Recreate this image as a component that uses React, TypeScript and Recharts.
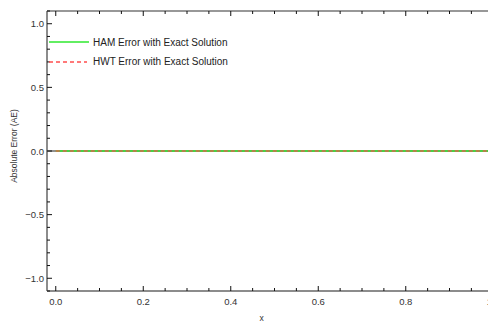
import React from 'react';
import { LineChart, Line, XAxis, YAxis, Legend, ReferenceLine } from 'recharts';

const xValues = [0, 0.1, 0.2, 0.3, 0.4, 0.5, 0.6, 0.7, 0.8, 0.9, 1.0];
const hamError = [0, 0, 0, 0, 0, 0, 0, 0, 0, 0, 0];
const hwtError = [0, 0, 0, 0, 0, 0, 0, 0, 0, 0, 0];

const xTicks = [0, 0.05, 0.1, 0.15, 0.2, 0.25, 0.3, 0.35, 0.4, 0.45, 0.5, 0.55, 0.6, 0.65, 0.7, 0.75, 0.8, 0.85, 0.9, 0.95, 1.0];
const xMajor = [0, 0.2, 0.4, 0.6, 0.8, 1.0];
const yTicks = [-1.1, -1.0, -0.9, -0.8, -0.7, -0.6, -0.5, -0.4, -0.3, -0.2, -0.1, 0, 0.1, 0.2, 0.3, 0.4, 0.5, 0.6, 0.7, 0.8, 0.9, 1.0, 1.1];
const yMajor = [-1.0, -0.5, 0, 0.5, 1.0];

const data = xValues.map((x, i) => ({ x, ham: hamError[i], hwt: hwtError[i] }));

const FONT = '"Liberation Sans", Arial, sans-serif';
const isMajor = (v: number, majors: number[]) => majors.some((m) => Math.abs(m - v) < 1e-6);
const fmt = (v: number) => (v < 0 ? '\u2212' + Math.abs(v).toFixed(1) : v.toFixed(1));

const BottomTick = (props: any) => {
  const { x, y, payload } = props;
  const major = isMajor(payload.value, xMajor);
  return (
    <g>
      <line x1={x} x2={x} y1={y} y2={y - (major ? 5 : 3)} stroke="#111" strokeWidth={1} />
      {major && (
        <text x={x} y={y + 14} textAnchor="middle" fontSize={9.5} fontFamily={FONT} fill="#333">
          {payload.value.toFixed(1)}
        </text>
      )}
    </g>
  );
};

const TopTick = (props: any) => {
  const { x, y, payload } = props;
  const major = isMajor(payload.value, xMajor);
  return <line x1={x} x2={x} y1={y} y2={y + (major ? 5 : 3)} stroke="#111" strokeWidth={1} />;
};

const LeftTick = (props: any) => {
  const { x, y, payload } = props;
  const major = isMajor(payload.value, yMajor);
  return (
    <g>
      <line x1={x} x2={x + (major ? 5 : 3)} y1={y} y2={y} stroke="#111" strokeWidth={1} />
      {major && (
        <text x={x - 3} y={y + 3.5} textAnchor="end" fontSize={9.5} fontFamily={FONT} fill="#333">
          {fmt(payload.value)}
        </text>
      )}
    </g>
  );
};

const LegendBox = ({ payload }: any) => (
  <div style={{ fontFamily: FONT, fontSize: 10, color: '#222' }}>
    {(payload || []).map((entry: any) => (
      <div key={entry.value} style={{ display: 'flex', alignItems: 'center', height: 19.5 }}>
        <svg width={44} height={6} style={{ display: 'block' }}>
          <line
            x1={0}
            x2={entry.dataKey === 'hwt' ? 38 : 40}
            y1={3}
            y2={3}
            stroke={entry.color}
            strokeWidth={1.5}
            strokeDasharray={entry.dataKey === 'hwt' ? '4 3' : undefined}
          />
        </svg>
        <span>{entry.value}</span>
      </div>
    ))}
  </div>
);

export default function App() {
  return (
    <div style={{ marginLeft: -8, marginTop: -8, width: 510, height: 323, background: '#fff' }}>
      <LineChart width={510} height={323} data={data} margin={{ top: 10, right: 7, bottom: 31, left: 46 }}>
        <XAxis
          dataKey="x"
          type="number"
          domain={[-0.02, 1.02]}
          ticks={xTicks}
          interval={0}
          height={1}
          tickSize={0}
          tickMargin={0}
          tick={<BottomTick />}
          tickLine={false}
          axisLine={{ stroke: '#666', strokeWidth: 1.5 }}
          allowDataOverflow
          label={{
            content: ({ viewBox }: any) => (
              <text x={viewBox.x + viewBox.width / 2 - 13} y={viewBox.y + 30} textAnchor="middle" fontSize={8.5} fontFamily={FONT} fill="#333">
                x
              </text>
            ),
          }}
        />
        <XAxis
          xAxisId="top"
          orientation="top"
          dataKey="x"
          type="number"
          domain={[-0.02, 1.02]}
          ticks={xTicks}
          interval={0}
          height={1}
          tickSize={0}
          tickMargin={0}
          tick={<TopTick />}
          tickLine={false}
          axisLine={{ stroke: '#333', strokeWidth: 1.2 }}
          allowDataOverflow
        />
        <YAxis
          type="number"
          domain={[-1.1, 1.1]}
          ticks={yTicks}
          interval={0}
          width={1}
          tickSize={0}
          tickMargin={0}
          tick={<LeftTick />}
          tickLine={false}
          axisLine={{ stroke: '#666', strokeWidth: 1.5 }}
          allowDataOverflow
          label={{
            content: ({ viewBox }: any) => {
              const cx = viewBox.x - 32;
              const cy = viewBox.y + viewBox.height / 2 - 5;
              return (
                <text x={cx} y={cy} transform={`rotate(-90 ${cx} ${cy})`} textAnchor="middle" dominantBaseline="central" fontSize={8.5} fontFamily={FONT} fill="#333">
                  Absolute Error (AE)
                </text>
              );
            },
          }}
        />
        <YAxis yAxisId="right" orientation="right" type="number" domain={[-1.1, 1.1]} width={1} tick={false} tickLine={false} axisLine={{ stroke: '#333' }} />
        <ReferenceLine y={0} stroke="#222" strokeWidth={1} />
        <Line type="linear" dataKey="ham" name="HAM Error with Exact Solution" stroke="#2ee82e" strokeWidth={1.5} dot={false} isAnimationActive={false} />
        <Line type="linear" dataKey="hwt" name="HWT Error with Exact Solution" stroke="#ff4d4d" strokeWidth={1.5} strokeDasharray="4 3" strokeOpacity={0.8} dot={false} isAnimationActive={false} />
        <Legend
          layout="horizontal"
          verticalAlign="middle"
          align="center"
          content={<LegendBox />}
          wrapperStyle={{ left: 49, top: 32.5, width: 200, height: 40 }}
        />
      </LineChart>
    </div>
  );
}
